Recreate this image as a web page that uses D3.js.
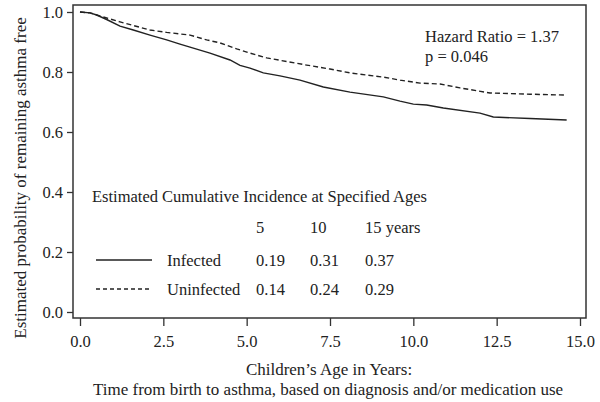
<!DOCTYPE html>
<meta charset="utf-8">
<head>
    <script src="https://d3js.org/d3.v7.min.js"></script>
    <style>
      body { margin: 0; background: #fff; }
      text { font-family: "Liberation Serif", "Times New Roman", serif; fill: #222; }
    </style>
</head>
<html>
    <body>
        <div id="chart"></div>
    </body>
</html>
<script>
    // survival curves: [years, probability asthma free]
    const infected = [
      [0, 1.0], [0.3, 0.997], [0.5, 0.99], [0.8, 0.975], [1.2, 0.953], [1.6, 0.94],
      [2.1, 0.923], [2.6, 0.907], [3.0, 0.893], [3.3, 0.883], [3.9, 0.863], [4.5, 0.84],
      [4.8, 0.822], [5.1, 0.813], [5.5, 0.797], [6.0, 0.787], [6.6, 0.773], [7.3, 0.75],
      [8.1, 0.733], [9.1, 0.717], [9.6, 0.703], [10.0, 0.693], [10.4, 0.69], [10.9, 0.68],
      [12.0, 0.663], [12.4, 0.65], [13.5, 0.645], [14.6, 0.64]
    ]
    const uninfected = [
      [0, 1.0], [0.3, 0.997], [0.5, 0.99], [0.8, 0.98], [1.2, 0.967], [1.6, 0.955],
      [2.1, 0.94], [2.6, 0.932], [3.3, 0.923], [3.8, 0.907], [4.2, 0.897], [4.7, 0.877],
      [5.1, 0.863], [5.6, 0.847], [6.2, 0.835], [6.8, 0.823], [7.5, 0.81], [8.1, 0.797],
      [9.1, 0.783], [9.6, 0.773], [10.2, 0.763], [10.8, 0.76], [11.4, 0.747], [12.3, 0.73],
      [13.5, 0.726], [14.6, 0.723]
    ]

    const xTicks = [0, 2.5, 5, 7.5, 10, 12.5, 15]
    const yTicks = [0, 0.2, 0.4, 0.6, 0.8, 1.0]

    const groups = ["Infected", "Uninfected"]
    const ageHeaders = ["5", "10", "15 years"]
    const incidence = [["0.19", "0.31", "0.37"], ["0.14", "0.24", "0.29"]]

    const width = 600, height = 402
    const box = {left: 73, top: 5, right: 586, bottom: 318}
    const fs = "16.5px"

    const svg = d3.select("#chart")
      .append("svg")
        .attr("width", width)
        .attr("height", height)

    const x = d3.scaleLinear().domain([0, 15]).range([80, 580])
    const y = d3.scaleLinear().domain([0, 1]).range([312, 12])

    // frame
    svg.append("rect")
      .attr("x", box.left).attr("y", box.top)
      .attr("width", box.right - box.left).attr("height", box.bottom - box.top)
      .attr("fill", "none").attr("stroke", "#333").attr("stroke-width", 1.5)

    // y axis
    const yAxis = svg.append("g")
      .attr("transform", `translate(${box.left},0)`)
      .call(d3.axisLeft(y).tickValues(yTicks).tickFormat(d3.format(".1f")).tickSize(6).tickPadding(4))
    yAxis.select(".domain").remove()
    yAxis.selectAll("line").attr("stroke", "#333").attr("stroke-width", 1.3)
    yAxis.selectAll("text").style("font-size", fs).attr("fill", "#222")
      .style("font-family", '"Liberation Serif", serif')

    // x axis
    const xAxis = svg.append("g")
      .attr("transform", `translate(0,${box.bottom})`)
      .call(d3.axisBottom(x).tickValues(xTicks).tickFormat(d3.format(".1f")).tickSize(8).tickPadding(9))
    xAxis.select(".domain").remove()
    xAxis.selectAll("line").attr("stroke", "#333").attr("stroke-width", 1.3)
    xAxis.selectAll("text").style("font-size", fs).attr("fill", "#222")
      .style("font-family", '"Liberation Serif", serif')

    // curves
    const line = d3.line().x(d => x(d[0])).y(d => y(d[1]))
    svg.append("path").datum(uninfected)
      .attr("d", line).attr("fill", "none").attr("stroke", "#222")
      .attr("stroke-width", 1.4).attr("stroke-dasharray", "5,3")
    svg.append("path").datum(infected)
      .attr("d", line).attr("fill", "none").attr("stroke", "#222")
      .attr("stroke-width", 1.4)

    // annotation
    svg.append("text").attr("x", 425).attr("y", 42).style("font-size", fs).text("Hazard Ratio = 1.37")
    svg.append("text").attr("x", 425).attr("y", 62).style("font-size", fs).text("p = 0.046")

    // incidence table legend
    svg.append("text").attr("x", 92).attr("y", 202).style("font-size", fs)
      .text("Estimated Cumulative Incidence at Specified Ages")
    const colX = [256, 310, 365]
    ageHeaders.forEach((h, i) => {
      svg.append("text").attr("x", colX[i]).attr("y", 233).style("font-size", fs).text(h)
    })
    const rowY = [266, 295]
    groups.forEach((g, r) => {
      svg.append("line")
        .attr("x1", 96).attr("x2", 152)
        .attr("y1", rowY[r] - 6).attr("y2", rowY[r] - 6)
        .attr("stroke", "#222").attr("stroke-width", 1.4)
        .attr("stroke-dasharray", r === 1 ? "4,3" : null)
      svg.append("text").attr("x", 167).attr("y", rowY[r]).style("font-size", fs).text(g)
      incidence[r].forEach((v, i) => {
        svg.append("text").attr("x", colX[i]).attr("y", rowY[r]).style("font-size", fs).text(v)
      })
    })

    // axis titles
    svg.append("text")
      .attr("transform", "translate(26,178) rotate(-90)")
      .attr("text-anchor", "middle").style("font-size", "17px")
      .text("Estimated probability of remaining asthma free")
    svg.append("text").attr("x", 329).attr("y", 375).attr("text-anchor", "middle")
      .style("font-size", "17px").text("Children\u2019s Age in Years:")
    svg.append("text").attr("x", 328).attr("y", 395).attr("text-anchor", "middle")
      .style("font-size", "17px").text("Time from birth to asthma, based on diagnosis and/or medication use")
</script>
